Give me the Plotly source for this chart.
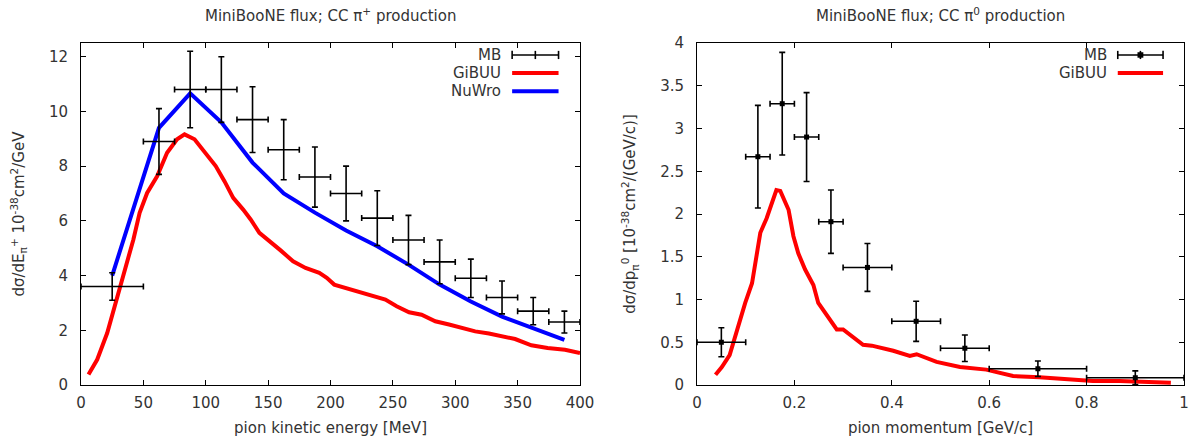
import plotly.graph_objects as go
from plotly.subplots import make_subplots

# left panel: CC pi+ , dsigma/dT vs pion kinetic energy [MeV]
mb_pip_E = [25, 62.5, 87.5, 112.5, 137.5, 162.5, 187.5, 212.5, 237.5, 262.5, 287.5, 312.5, 337.5, 362.5, 387.5]
mb_pip_dE = [25, 12.5, 12.5, 12.5, 12.5, 12.5, 12.5, 12.5, 12.5, 12.5, 12.5, 12.5, 12.5, 12.5, 12.5]
mb_pip_xs = [3.6, 8.9, 10.8, 10.8, 9.7, 8.6, 7.6, 7.0, 6.1, 5.3, 4.5, 3.9, 3.2, 2.7, 2.3]
mb_pip_err = [0.5, 1.2, 1.4, 1.2, 1.2, 1.1, 1.1, 1.0, 1.0, 0.9, 0.8, 0.7, 0.6, 0.5, 0.4]

gibuu_pip_E = [6, 13, 21, 27, 33, 37, 42, 47, 53, 61, 69, 77, 83, 91, 100, 108, 115, 122, 130, 136,
               143, 151, 160, 170, 180, 191, 197, 203, 212, 223, 233, 244, 253, 263, 273, 284, 295,
               305, 316, 327, 337, 348, 361, 374, 388, 400]
gibuu_pip_xs = [0.38, 0.93, 1.9, 2.88, 3.85, 4.58, 5.32, 6.29, 7.02, 7.63, 8.49, 8.98, 9.16, 8.98, 8.49,
                8.0, 7.45, 6.84, 6.41, 6.05, 5.56, 5.28, 4.92, 4.52, 4.28, 4.10, 3.92, 3.67, 3.55, 3.37,
                3.27, 3.12, 2.88, 2.66, 2.57, 2.33, 2.21, 2.09, 1.96, 1.88, 1.80, 1.68, 1.45, 1.35, 1.29, 1.17]

nuwro_E = [25, 62.5, 87.5, 112.5, 137.5, 162.5, 187.5, 212.5, 237.5, 262.5, 287.5, 312.5, 337.5, 362.5, 387.5]
nuwro_xs = [4.0, 9.4, 10.66, 9.6, 8.13, 7.0, 6.3, 5.65, 5.07, 4.4, 3.67, 3.05, 2.5, 2.08, 1.65]

# right panel: CC pi0 , dsigma/dp vs pion momentum [GeV/c]
mb_pi0_p = [0.05, 0.125, 0.175, 0.225, 0.275, 0.35, 0.45, 0.55, 0.7, 0.9]
mb_pi0_dp = [0.05, 0.025, 0.025, 0.025, 0.025, 0.05, 0.05, 0.05, 0.1, 0.1]
mb_pi0_xs = [0.5, 2.67, 3.29, 2.9, 1.91, 1.375, 0.745, 0.43, 0.19, 0.085]
mb_pi0_err = [0.17, 0.6, 0.6, 0.52, 0.37, 0.28, 0.235, 0.155, 0.09, 0.08]

gibuu_pi0_p = [0.038, 0.051, 0.067, 0.082, 0.099, 0.113, 0.123, 0.130, 0.143, 0.154, 0.163, 0.171,
               0.188, 0.198, 0.208, 0.222, 0.239, 0.249, 0.266, 0.287, 0.300, 0.321, 0.341, 0.359,
               0.403, 0.437, 0.451, 0.492, 0.54, 0.594, 0.649, 0.703, 0.758, 0.813, 0.867, 0.922, 0.973]
gibuu_pi0_xs = [0.12, 0.21, 0.35, 0.64, 0.96, 1.19, 1.50, 1.78, 1.95, 2.13, 2.28, 2.27, 2.05, 1.74,
                1.54, 1.35, 1.17, 0.96, 0.82, 0.65, 0.65, 0.55, 0.47, 0.46, 0.40, 0.34, 0.36, 0.27,
                0.21, 0.18, 0.105, 0.09, 0.067, 0.047, 0.047, 0.035, 0.027]

FONT = "DejaVu Sans"
TXT = "#333333"
RED = "#ff0000"
BLUE = "#0000ff"
W, H = 1189, 437

fig = make_subplots(rows=1, cols=2)


def mb_trace(x, dx, y, dy, marker_size):
    return go.Scatter(
        x=x, y=y, mode="markers",
        marker=dict(symbol="square", size=marker_size, color="black"),
        error_x=dict(type="data", array=dx, color="black", thickness=1.6, width=3),
        error_y=dict(type="data", array=dy, color="black", thickness=1.6, width=3),
        showlegend=False, name="MB",
    )


fig.add_trace(go.Scatter(x=gibuu_pip_E, y=gibuu_pip_xs, mode="lines",
                         line=dict(color=RED, width=4), showlegend=False, name="GiBUU"), row=1, col=1)
fig.add_trace(go.Scatter(x=nuwro_E, y=nuwro_xs, mode="lines",
                         line=dict(color=BLUE, width=4), showlegend=False, name="NuWro"), row=1, col=1)
fig.add_trace(mb_trace(mb_pip_E, mb_pip_dE, mb_pip_xs, mb_pip_err, 1), row=1, col=1)

fig.add_trace(go.Scatter(x=gibuu_pi0_p, y=gibuu_pi0_xs, mode="lines",
                         line=dict(color=RED, width=4), showlegend=False, name="GiBUU"), row=1, col=2)
fig.add_trace(mb_trace(mb_pi0_p, mb_pi0_dp, mb_pi0_xs, mb_pi0_err, 5), row=1, col=2)

axis_style = dict(showgrid=False, zeroline=False, showline=True, linecolor="black", linewidth=1,
                  mirror="ticks", ticks="inside", ticklen=5, tickcolor="black", automargin=False,
                  tickfont=dict(family=FONT, size=15, color=TXT))
title_font = dict(family=FONT, size=15, color=TXT)

# plot areas: left 81..580 px, right 697..1184 px, vertical 43..385 px
fig.update_xaxes(axis_style, ticklabelstandoff=4)
fig.update_yaxes(axis_style, ticklabelstandoff=9)
fig.update_layout(
    xaxis=dict(domain=[81 / W, 580 / W], range=[0, 400], dtick=50,
               title=dict(text="pion kinetic energy [MeV]", standoff=12, font=title_font)),
    yaxis=dict(domain=[52 / H, 394 / H], range=[0, 12.5], dtick=2,
               title=dict(text="dσ/dE<sub>π</sub><sup>+</sup> 10<sup>-38</sup>cm<sup>2</sup>/GeV",
                          standoff=20, font=title_font)),
    xaxis2=dict(domain=[697 / W, 1184 / W], range=[0, 1], dtick=0.2,
                title=dict(text="pion momentum [GeV/c]", standoff=12, font=title_font)),
    yaxis2=dict(domain=[52 / H, 394 / H], range=[0, 4], dtick=0.5,
                title=dict(text="dσ/dp<sub>π</sub><sup>0</sup> [10<sup>-38</sup>cm<sup>2</sup>/(GeV/c)]",
                           standoff=20, font=title_font)),
    width=W, height=H,
    margin=dict(l=0, r=0, t=0, b=0),
    plot_bgcolor="white", paper_bgcolor="white",
    font=dict(family=FONT, size=15, color=TXT),
)

# panel titles
for xc, txt in [((81 + 580) / 2 / W, "MiniBooNE flux; CC π<sup>+</sup> production"),
                ((697 + 1184) / 2 / W, "MiniBooNE flux; CC π<sup>0</sup> production")]:
    fig.add_annotation(x=xc, y=1 - 15 / H, xref="paper", yref="paper", text=txt,
                       showarrow=False, xanchor="center", yanchor="middle", font=title_font)


# gnuplot-style key: label on the left, sample on the right
def key_entry(ax, row, label, kind, color="black", dot=False):
    xr = "x domain" if ax == 1 else "x2 domain"
    yr = "y domain" if ax == 1 else "y2 domain"
    yk = 0.965 - row * 0.053
    x0, x1 = 0.864, 0.957
    fig.add_annotation(x=0.846, y=yk, xref=xr, yref=yr, text=label, showarrow=False,
                       xanchor="right", yanchor="middle", font=title_font)
    if kind == "line":
        fig.add_shape(type="line", x0=x0, x1=x1, y0=yk, y1=yk, xref=xr, yref=yr,
                      line=dict(color=color, width=4))
    else:
        fig.add_shape(type="line", x0=x0, x1=x1, y0=yk, y1=yk, xref=xr, yref=yr,
                      line=dict(color="black", width=1.6))
        for xx in (x0, (x0 + x1) / 2, x1):
            fig.add_shape(type="line", x0=xx, x1=xx, y0=yk - 0.012, y1=yk + 0.012, xref=xr, yref=yr,
                          line=dict(color="black", width=1.6))
        if dot:
            xm = (x0 + x1) / 2
            fig.add_shape(type="rect", x0=xm - 0.006, x1=xm + 0.006, y0=yk - 0.008, y1=yk + 0.008,
                          xref=xr, yref=yr, fillcolor="black", line=dict(width=0))


key_entry(1, 0, "MB", "err")
key_entry(1, 1, "GiBUU", "line", RED)
key_entry(1, 2, "NuWro", "line", BLUE)
key_entry(2, 0, "MB", "err", dot=True)
key_entry(2, 1, "GiBUU", "line", RED)

# drop the default page margin so the figure fills the window exactly
fig.write_html("out.html", config={"displayModeBar": False},
               post_script="document.body.style.margin='0px';")
